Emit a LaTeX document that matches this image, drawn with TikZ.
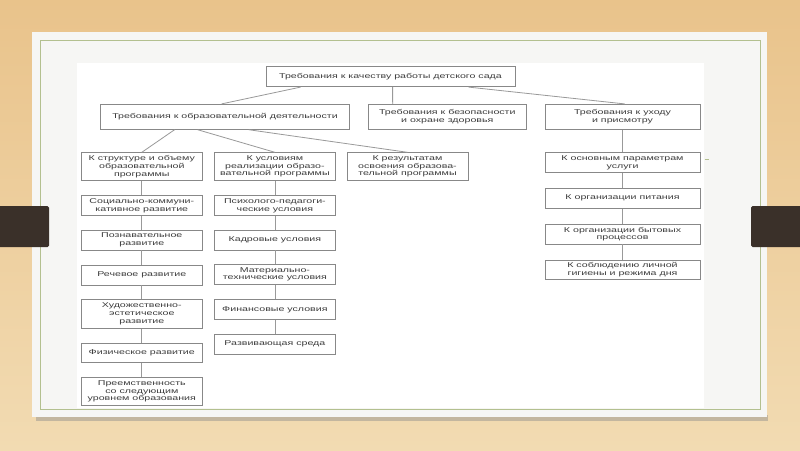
\documentclass[tikz,border=0pt]{standalone}
\usepackage{fontspec}
\setmainfont{Liberation Sans}[FakeStretch=1.52]
\usetikzlibrary{calc}
\definecolor{woodtop}{HTML}{E9C38B}
\definecolor{woodbot}{HTML}{F2DBB2}
\definecolor{cardc}{HTML}{F6F6F4}
\definecolor{framec}{HTML}{B3C08F}
\definecolor{barc}{HTML}{3A3029}
\definecolor{boxc}{HTML}{888888}
\definecolor{linkc}{HTML}{999999}
\definecolor{txt}{HTML}{3C3C3C}
\begin{document}
\begin{tikzpicture}[x=1pt,y=-1pt,
  box/.style={draw=boxc, line width=0.8pt, fill=white, align=center,
    font=\fontsize{7}{7.6}\selectfont, text=txt, inner sep=1pt},
  link/.style={draw=linkc, line width=0.8pt}]
\useasboundingbox (0,0) rectangle (800,450);
% background
\shade[top color=woodtop, bottom color=woodbot] (0,0) rectangle (800,450);
% card shadow and card
\fill[black!45, opacity=0.45] (36,415) rectangle (768,421);
\fill[cardc] (32,32) rectangle (767,417);
\fill[white] (77,63) rectangle (704,408);
\draw[framec, line width=1pt] (40,40) rectangle (760,409);
% side bars
\fill[barc, rounded corners=1.5pt] (-3,206) rectangle (49,247);
\fill[barc, rounded corners=1.5pt] (751,206) rectangle (803,247);
% stray mark
\draw[framec, line width=0.8pt] (704.5,159.5) -- (708.5,159.5);

% nodes
\node[box, minimum width=249pt, minimum height=20pt] (top) at (390.5,76.7) {Требования к качеству работы детского сада};
\node[box, minimum width=249pt, minimum height=25pt] (l2a) at (225,116.8) {Требования к образовательной деятельности};
\node[box, minimum width=158.5pt, minimum height=25pt] (l2b) at (447.3,116.8) {Требования к безопасности\\и охране здоровья};
\node[box, minimum width=155pt, minimum height=25pt] (l2c) at (622.5,116.8) {Требования к уходу\\и присмотру};

\node[box, minimum width=120.4pt, minimum height=28pt] (l3a) at (141.8,166.7) {К структуре и объему\\образовательной\\программы};
\node[box, minimum width=121.7pt, minimum height=28pt] (l3b) at (274.9,166.7) {К условиям\\реализации образо-\\вательной программы};
\node[box, minimum width=121pt, minimum height=28pt] (l3c) at (407.5,166.7) {К результатам\\освоения образова-\\тельной программы};
\node[box, minimum width=155pt, minimum height=20pt] (l3d) at (622.5,162.7) {К основным параметрам\\услуги};

\node[box, minimum width=120.4pt, minimum height=20pt] (a1) at (141.8,205.7) {Социально-коммуни-\\кативное развитие};
\node[box, minimum width=120.4pt, minimum height=20pt] (a2) at (141.8,240) {Познавательное\\развитие};
\node[box, minimum width=120.4pt, minimum height=20pt] (a3) at (141.8,275) {Речевое развитие};
\node[box, minimum width=120.4pt, minimum height=29pt] (a4) at (141.8,313.8) {Художественно-\\эстетическое\\развитие};
\node[box, minimum width=120.4pt, minimum height=19.4pt] (a5) at (141.8,353) {Физическое развитие};
\node[box, minimum width=120.4pt, minimum height=28.4pt] (a6) at (141.8,391.5) {Преемственность\\со следующим\\уровнем образования};

\node[box, minimum width=121.7pt, minimum height=20pt] (b1) at (274.9,205.7) {Психолого-педагоги-\\ческие условия};
\node[box, minimum width=121.7pt, minimum height=20pt] (b2) at (274.9,240) {Кадровые условия};
\node[box, minimum width=121.7pt, minimum height=20pt] (b3) at (274.9,274.3) {Материально-\\технические условия};
\node[box, minimum width=121.7pt, minimum height=20pt] (b4) at (274.9,309.3) {Финансовые условия};
\node[box, minimum width=121.7pt, minimum height=20pt] (b5) at (274.9,344) {Развивающая среда};

\node[box, minimum width=155pt, minimum height=20pt] (c1) at (622.5,198.3) {К организации питания};
\node[box, minimum width=155pt, minimum height=20pt] (c2) at (622.5,234) {К организации бытовых\\процессов};
\node[box, minimum width=155pt, minimum height=19.3pt] (c3) at (622.5,269.7) {К соблюдению личной\\гигиены и режима дня};

% connectors
\draw[link] ($(top.south west)+(35,0)$) -- ($(l2a.north west)+(121.5,0)$);
\draw[link] ($(top.south west)+(127,0)$) -- ($(l2b.north west)+(25,0)$);
\draw[link] ($(top.south west)+(203,0)$) -- ($(l2c.north west)+(80,0)$);
\draw[link] ($(l2a.south west)+(74.5,0)$) -- (l3a.north);
\draw[link] ($(l2a.south west)+(97.5,0)$) -- (l3b.north);
\draw[link] ($(l2a.south west)+(148.5,0)$) -- (l3c.north);
\draw[link] (l2c.south) -- (l3d.north);
\draw[link] (l3a) -- (a1) -- (a2) -- (a3) -- (a4) -- (a5) -- (a6);
\draw[link] (l3b) -- (b1) -- (b2) -- (b3) -- (b4) -- (b5);
\draw[link] (l3d) -- (c1) -- (c2) -- (c3);
\end{tikzpicture}
\end{document}
